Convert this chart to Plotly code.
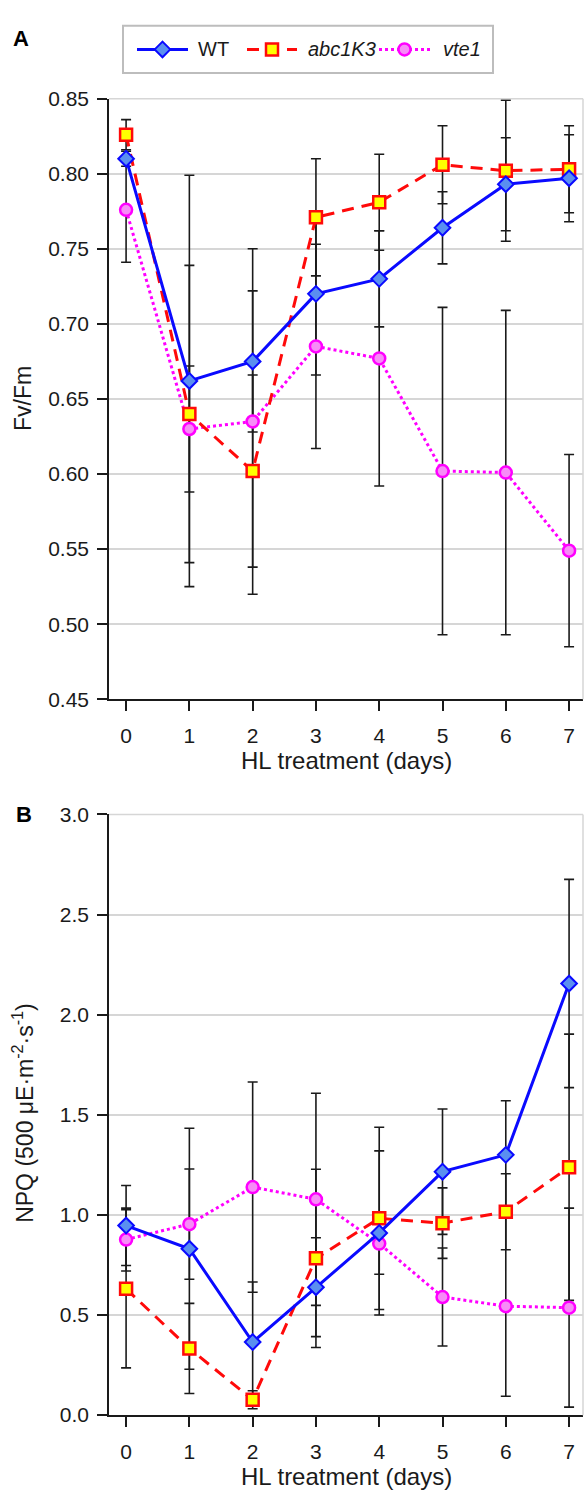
import plotly.graph_objects as go

# ---- data -------------------------------------------------------------
days = [0, 1, 2, 3, 4, 5, 6, 7]

fvfm_wt = [0.810, 0.662, 0.675, 0.720, 0.730, 0.764, 0.793, 0.797]
fvfm_wt_err = [0.005, 0.137, 0.047, 0.054, 0.032, 0.024, 0.031, 0.029]
fvfm_abc1k3 = [0.826, 0.640, 0.602, 0.771, 0.781, 0.806, 0.802, 0.803]
fvfm_abc1k3_err = [0.010, 0.099, 0.064, 0.039, 0.032, 0.026, 0.047, 0.029]
fvfm_vte1 = [0.776, 0.630, 0.635, 0.685, 0.677, 0.602, 0.601, 0.549]
fvfm_vte1_err = [0.035, 0.042, 0.115, 0.068, 0.085, 0.109, 0.108, 0.064]

npq_wt = [0.947, 0.831, 0.365, 0.639, 0.910, 1.216, 1.300, 2.156]
npq_wt_err = [0.200, 0.602, 0.300, 0.247, 0.410, 0.313, 0.270, 0.520]
npq_abc1k3 = [0.631, 0.333, 0.077, 0.783, 0.983, 0.959, 1.016, 1.238]
npq_abc1k3_err = [0.395, 0.225, 0.045, 0.445, 0.455, 0.176, 0.190, 0.665]
npq_vte1 = [0.877, 0.954, 1.139, 1.078, 0.857, 0.590, 0.544, 0.537]
npq_vte1_err = [0.157, 0.275, 0.525, 0.530, 0.153, 0.245, 0.450, 0.497]

series_names = ["WT", "abc1K3", "vte1"]

# ---- styles -----------------------------------------------------------
W, H = 584, 1499
FONT = "Liberation Sans, Arial, Helvetica, sans-serif"
INK = "#1a1a1a"
GRID = "#d6d6d6"

styles = {
    "WT": dict(
        line=dict(color="#0a0aff", width=3),
        marker=dict(symbol="diamond", size=12, color="#5a8ff0",
                    line=dict(color="#0a0aff", width=2)),
    ),
    "abc1K3": dict(
        line=dict(color="#ff0a0a", width=3, dash="12px,8px"),
        marker=dict(symbol="square", size=12, color="#ffff00",
                    line=dict(color="#ff0a0a", width=2.5)),
    ),
    "vte1": dict(
        line=dict(color="#ff00ff", width=3, dash="3px,3px"),
        marker=dict(symbol="circle", size=12, color="#f78cf7",
                    line=dict(color="#ff00ff", width=2.5)),
    ),
}

panels = [
    ("x", "y", {"WT": (fvfm_wt, fvfm_wt_err),
                "abc1K3": (fvfm_abc1k3, fvfm_abc1k3_err),
                "vte1": (fvfm_vte1, fvfm_vte1_err)}),
    ("x2", "y2", {"WT": (npq_wt, npq_wt_err),
                  "abc1K3": (npq_abc1k3, npq_abc1k3_err),
                  "vte1": (npq_vte1, npq_vte1_err)}),
]


def px_x(px):
    return px / W


def px_y(py):
    return 1 - py / H


fig = go.Figure()

for xa, ya, data in panels:
    # error bars underneath every line and marker
    for name in series_names:
        vals, errs = data[name]
        fig.add_trace(go.Scatter(
            x=days, y=vals, xaxis=xa, yaxis=ya, mode="markers",
            marker=dict(size=1, color="rgba(0,0,0,0)"),
            error_y=dict(type="data", array=errs, visible=True,
                         color=INK, thickness=1.6, width=5),
            showlegend=False, hoverinfo="skip",
        ))
    # series lines and markers, WT on top
    for name in ["vte1", "abc1K3", "WT"]:
        vals, _ = data[name]
        fig.add_trace(go.Scatter(
            x=days, y=vals, xaxis=xa, yaxis=ya, mode="lines+markers",
            name=name, line=styles[name]["line"],
            marker=styles[name]["marker"], showlegend=False,
        ))

# ---- legend drawn in its own small axis box ---------------------------
legend_items = [
    ("WT", "WT", 14, 65, 73),
    ("abc1K3", "<i>abc1K3</i>", 124, 174, 183),
    ("vte1", "<i>vte1</i>", 256, 307, 318),
]
for name, label, x0, x1, xt in legend_items:
    fig.add_trace(go.Scatter(
        x=[x0, x1], y=[0.5, 0.5], xaxis="x3", yaxis="y3", mode="lines",
        line=styles[name]["line"], showlegend=False, hoverinfo="skip",
    ))
    fig.add_trace(go.Scatter(
        x=[(x0 + x1) / 2], y=[0.5], xaxis="x3", yaxis="y3", mode="markers",
        marker=styles[name]["marker"], showlegend=False, hoverinfo="skip",
    ))
    fig.add_annotation(
        x=xt, y=0.5, xref="x3", yref="y3", text=label, showarrow=False,
        xanchor="left", yanchor="middle",
        font=dict(family=FONT, size=20, color=INK),
    )

fig.add_shape(type="rect", xref="x3 domain", yref="y3 domain",
              x0=0, x1=1, y0=0, y1=1,
              line=dict(color="#bdbdbd", width=2), fillcolor="rgba(0,0,0,0)")

# ---- axes -------------------------------------------------------------
x_dom = [px_x(109), px_x(583)]
common_x = dict(
    range=[-0.27, 7.22], tickmode="array", tickvals=days,
    ticks="outside", ticklen=10, tickwidth=1.5, tickcolor=INK,
    showline=True, linecolor=INK, linewidth=1.6,
    showgrid=False, zeroline=False, ticklabelstandoff=7,
    tickfont=dict(family=FONT, size=21, color=INK),
)
common_y = dict(
    ticks="outside", ticklen=10, tickwidth=1.5, tickcolor=INK,
    showline=True, linecolor=INK, linewidth=1.6,
    showgrid=True, gridcolor=GRID, gridwidth=1.5, zeroline=False,
    tickfont=dict(family=FONT, size=21, color=INK), ticklabelstandoff=4,
)

fig.update_layout(
    width=W, height=H,
    margin=dict(l=0, r=0, t=0, b=0),
    paper_bgcolor="white", plot_bgcolor="white",
    showlegend=False,
    xaxis=dict(domain=x_dom, anchor="y", **common_x),
    yaxis=dict(domain=[px_y(698), px_y(88)], anchor="x",
               range=[0.45, 0.85], tick0=0.45, dtick=0.05,
               tickformat=".2f", **common_y),
    xaxis2=dict(domain=x_dom, anchor="y2", **common_x),
    yaxis2=dict(domain=[px_y(1425), px_y(815)], anchor="x2",
                range=[0, 3.0], tick0=0, dtick=0.5,
                tickformat=".1f", **common_y),
    xaxis3=dict(domain=[px_x(123), px_x(493)], anchor="y3",
                range=[0, 370], visible=False, fixedrange=True),
    yaxis3=dict(domain=[px_y(62), px_y(14)], anchor="x3",
                range=[0, 1], visible=False, fixedrange=True),
)

# light frame on the top and right of each panel
for xa, ya in [("x", "y"), ("x2", "y2")]:
    fig.add_shape(type="line", xref=f"{xa} domain", yref=f"{ya} domain",
                  x0=1, x1=1, y0=0, y1=1, line=dict(color=GRID, width=1.5))
    fig.add_shape(type="line", xref=f"{xa} domain", yref=f"{ya} domain",
                  x0=0, x1=1, y0=1, y1=1, line=dict(color=GRID, width=1.5))

# ---- titles and panel letters ------------------------------------------
xtitle_font = dict(family=FONT, size=24, color=INK)
ytitle_font = dict(family=FONT, size=23, color=INK)
for yc in (760, 1487):
    fig.add_annotation(x=px_x(346), y=px_y(yc), xref="paper", yref="paper",
                       text="HL treatment (days)", showarrow=False,
                       xanchor="center", yanchor="middle", font=xtitle_font)

fig.add_annotation(x=px_x(23), y=px_y(393), xref="paper", yref="paper",
                   text="Fv/Fm", textangle=-90, showarrow=False,
                   xanchor="center", yanchor="middle", font=ytitle_font)
fig.add_annotation(x=px_x(23), y=px_y(1118), xref="paper", yref="paper",
                   text="NPQ (500 μE·m<sup>-2</sup>·s<sup>-1</sup>)",
                   textangle=-90, showarrow=False,
                   xanchor="center", yanchor="middle", font=ytitle_font)

letter_font = dict(family=FONT, size=22, color="black", weight="bold")
fig.add_annotation(x=px_x(21), y=px_y(27), xref="paper", yref="paper",
                   text="<b>A</b>", showarrow=False,
                   xanchor="center", yanchor="middle", font=letter_font)
fig.add_annotation(x=px_x(24), y=px_y(815), xref="paper", yref="paper",
                   text="<b>B</b>", showarrow=False,
                   xanchor="center", yanchor="middle", font=letter_font)

fig.write_html("out.html")
